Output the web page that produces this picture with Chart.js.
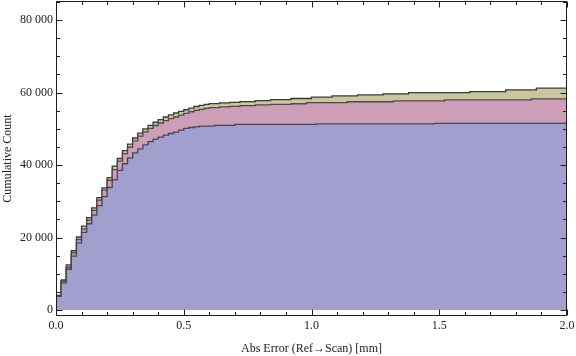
<!DOCTYPE html>
<html>
<head>
<meta charset="utf-8">
<script src="https://cdn.jsdelivr.net/npm/chart.js@4"></script>
<style>
  html, body { margin: 0; padding: 0; background: #fff; }
  #wrap { width: 576px; height: 356px; }
</style>
</head>
<body>
<div id="wrap"><canvas id="c" width="576" height="356"></canvas></div>
<script>
// ---- data (cumulative counts per 0.02 mm bin) ----
const binWidth = 0.02;
const seriesBlue = [3800,7500,11250,14850,18500,21400,23800,26200,28800,31300,
  33800,35900,38500,40350,42000,43350,44450,45550,46450,47150,
  47700,48250,48700,49100,49650,50100,50350,50550,50750,50750,
  50750,50950,50950,50950,50950,51200,51200,51200,51200,51200,
  51200,51200,51200,51200,51200,51200,51200,51200,51200,51200,
  51200,51350,51350,51350,51350,51350,51350,51350,51350,51350,
  51350,51350,51350,51350,51350,51350,51350,51350,51350,51350,
  51350,51350,51350,51350,51500,51500,51500,51500,51500,51500,
  51500,51500,51500,51500,51500,51500,51500,51500,51500,51500,
  51500,51500,51500,51500,51500,51500,51500,51500,51500,51500];
const seriesPink = [3900,8000,11800,15750,19450,22400,24800,27500,30300,33050,
  35800,38750,41100,43150,44900,46650,47950,49150,50100,50900,
  51600,52250,52800,53250,53750,54250,54700,55100,55350,55650,
  55850,55850,56050,56050,56200,56200,56400,56400,56400,56600,
  56600,56600,56750,56750,56750,56750,56900,56900,56900,57200,
  57200,57200,57200,57200,57200,57200,57200,57450,57450,57450,
  57450,57450,57450,57450,57450,57450,57700,57700,57700,57700,
  57700,57700,57700,57700,57700,57700,58000,58000,58000,58000,
  58000,58000,58000,58000,58000,58000,58000,58000,58000,58000,
  58000,58000,58000,58250,58250,58250,58250,58250,58250,58250];
const seriesOlive = [4000,8300,12450,16350,20150,23150,25500,28200,31000,33700,
  36500,39700,41800,44000,45750,47450,48800,50000,50950,51800,
  52550,53250,53850,54350,54800,55250,55700,56150,56450,56750,
  56950,56950,57150,57150,57300,57300,57500,57500,57500,57750,
  57750,57750,58050,58050,58050,58050,58350,58350,58350,58350,
  58750,58750,58750,58750,59050,59050,59050,59050,59050,59350,
  59350,59350,59350,59350,59650,59650,59650,59650,59650,59950,
  59950,59950,59950,59950,59950,59950,59950,59950,59950,59950,
  59950,60250,60250,60250,60250,60250,60250,60250,60750,60750,
  60750,60750,60750,60750,61200,61200,61200,61200,61200,61200];
const xMajorTicks = [0, 0.5, 1.0, 1.5, 2.0];
const xMinorTicks = [0.1,0.2,0.3,0.4,0.6,0.7,0.8,0.9,1.1,1.2,1.3,1.4,1.6,1.7,1.8,1.9];
const yMajorTicks = [0, 20000, 40000, 60000, 80000];
const yMinorTicks = [5000,10000,15000,25000,30000,35000,45000,50000,55000,65000,70000,75000,85000];
const xTitle = 'Abs Error (Ref\u2192Scan) [mm]';
const yTitle = 'Cumulative Count';

function toSteps(vals) {
  const pts = vals.map((v, i) => ({x: i * binWidth, y: v}));
  pts.push({x: vals.length * binWidth, y: vals[vals.length - 1]});
  return pts;
}

const FONT = "'Liberation Serif', 'Times New Roman', serif";

const frameTicks = {
  id: 'frameTicks',
  afterDatasetsDraw(chart) {
    const {ctx, chartArea: a, scales: {x, y}} = chart;
    const L = Math.round(a.left) + 0.5, R = Math.round(a.right) - 0.5;
    const T = Math.round(a.top) + 0.5, B = Math.round(a.bottom) - 0.5;
    ctx.save();
    ctx.strokeStyle = '#1e1e1e';
    ctx.lineWidth = 1;
    ctx.beginPath();
    ctx.rect(L, T, R - L, B - T);
    const tick = (vals, len, horiz) => {
      vals.forEach(v => {
        if (horiz) {
          const px = Math.round(x.getPixelForValue(v)) + 0.5;
          ctx.moveTo(px, B); ctx.lineTo(px, B - len);
          ctx.moveTo(px, T); ctx.lineTo(px, T + len);
        } else {
          const py = Math.round(y.getPixelForValue(v)) + 0.5;
          ctx.moveTo(L, py); ctx.lineTo(L + len, py);
          ctx.moveTo(R, py); ctx.lineTo(R - len, py);
        }
      });
    };
    tick(xMajorTicks, 6, true);
    tick(xMinorTicks, 3.5, true);
    tick(yMajorTicks, 6, false);
    tick(yMinorTicks, 3.5, false);
    ctx.stroke();
    ctx.restore();
  }
};

const common = {pointRadius: 0, borderWidth: 1.3, stepped: 'before', fill: 'origin', tension: 0};

new Chart(document.getElementById('c'), {
  type: 'line',
  data: {
    datasets: [
      Object.assign({label: 'blue', data: toSteps(seriesBlue), backgroundColor: 'rgb(160,159,205)', borderColor: 'rgba(60,60,75,0.9)'}, common),
      Object.assign({label: 'pink', data: toSteps(seriesPink), backgroundColor: 'rgb(204,158,184)', borderColor: 'rgba(70,60,65,0.9)'}, common),
      Object.assign({label: 'olive', data: toSteps(seriesOlive), backgroundColor: 'rgb(202,199,160)', borderColor: 'rgba(50,50,45,0.95)'}, common)
    ]
  },
  options: {
    responsive: false,
    animation: false,
    events: [],
    layout: {padding: {left: 0, right: 9, top: 1, bottom: 0}},
    plugins: {legend: {display: false}, tooltip: {enabled: false}},
    scales: {
      x: {
        type: 'linear', min: 0, max: 2,
        grid: {display: false, drawTicks: false},
        border: {display: false},
        afterBuildTicks: s => { s.ticks = xMajorTicks.map(v => ({value: v})); },
        afterFit: s => { s.height = 40; s.paddingLeft = 0; s.paddingRight = 0; },
        ticks: {padding: 3, color: '#222', font: {family: FONT, size: 12}, maxRotation: 0,
          callback: v => Number(v).toFixed(1)},
        title: {display: true, text: xTitle, color: '#222', font: {family: FONT, size: 12}, padding: {top: 1, bottom: 0}}
      },
      y: {
        type: 'linear', min: -1650, max: 85250,
        grid: {display: false, drawTicks: false},
        border: {display: false},
        afterBuildTicks: s => { s.ticks = yMajorTicks.map(v => ({value: v})); },
        afterFit: s => { s.width = 56; s.paddingTop = 0; s.paddingBottom = 0; },
        ticks: {padding: 3, color: '#222', font: {family: FONT, size: 12},
          callback: v => String(v).replace(/\B(?=(\d{3})+(?!\d))/g, ' ')},
        title: {display: true, text: yTitle, color: '#222', font: {family: FONT, size: 12}, padding: {top: 1, bottom: 0}}
      }
    }
  },
  plugins: [frameTicks]
});
</script>
</body>
</html>
